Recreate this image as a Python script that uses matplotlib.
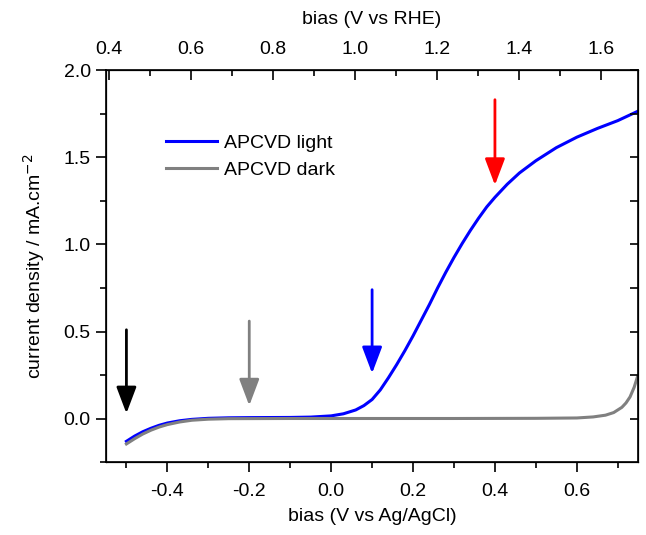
import numpy as np
import matplotlib.pyplot as plt

plt.rcParams['font.family'] = ['Liberation Sans', 'DejaVu Sans']
plt.rcParams['font.size'] = 14

# LSV data (V vs Ag/AgCl, mA/cm2)
v_light = [-0.50, -0.48, -0.46, -0.44, -0.42, -0.40, -0.37, -0.34, -0.30, -0.25,
           -0.20, -0.10, -0.05, 0.00, 0.03, 0.06, 0.08, 0.10, 0.12, 0.14,
           0.16, 0.18, 0.20, 0.22, 0.24, 0.26, 0.28, 0.30, 0.32, 0.34,
           0.36, 0.38, 0.40, 0.43, 0.46, 0.50, 0.55, 0.60, 0.65, 0.70, 0.75]
j_light = [-0.13, -0.10, -0.075, -0.055, -0.038, -0.025, -0.012, -0.004, 0.002, 0.005,
           0.006, 0.007, 0.009, 0.016, 0.028, 0.05, 0.075, 0.11, 0.165, 0.235,
           0.31, 0.39, 0.475, 0.565, 0.655, 0.75, 0.84, 0.925, 1.005, 1.08,
           1.15, 1.215, 1.27, 1.345, 1.41, 1.48, 1.555, 1.615, 1.665, 1.71, 1.765]

v_dark = [-0.50, -0.48, -0.46, -0.44, -0.42, -0.40, -0.37, -0.34, -0.30, -0.25,
          -0.10, 0.10, 0.30, 0.50, 0.60, 0.64, 0.67, 0.69, 0.71, 0.72, 0.73, 0.74, 0.748]
j_dark = [-0.145, -0.115, -0.088, -0.066, -0.048, -0.034, -0.019, -0.009, -0.003, 0.0,
          0.001, 0.001, 0.001, 0.002, 0.004, 0.010, 0.02, 0.035, 0.065, 0.09, 0.125, 0.18, 0.24]

# arrows: x position, tail, tip, colour
arrow_x = [-0.5, -0.2, 0.1, 0.4]
arrow_tail = [0.51, 0.56, 0.74, 1.83]
arrow_tip = [0.03, 0.075, 0.26, 1.34]
arrow_col = ['black', 'gray', 'blue', 'red']

rhe_offset = 0.942  # V vs RHE = V vs Ag/AgCl + offset

fig = plt.figure(figsize=(6.46, 5.35), dpi=100)
ax = fig.add_axes([0.164, 0.136, 0.824, 0.733])

ax.plot(v_light, j_light, color='blue', lw=2.2, label='APCVD light')
ax.plot(v_dark, j_dark, color='gray', lw=2.2, label='APCVD dark')

for x, t0, t1, c in zip(arrow_x, arrow_tail, arrow_tip, arrow_col):
    ax.annotate('', xy=(x, t1), xytext=(x, t0),
                arrowprops=dict(arrowstyle='-|>,head_length=0.9,head_width=0.34',
                                color=c, lw=2.0, mutation_scale=18,
                                shrinkA=0, shrinkB=0))

ax.set_xlim(-0.55, 0.75)
ax.set_ylim(-0.25, 2.0)
ax.set_xticks(np.arange(-0.4, 0.61, 0.2))
ax.set_xticks(np.arange(-0.5, 0.75, 0.1), minor=True)
ax.set_yticks(np.arange(0, 2.01, 0.5))
ax.set_yticks(np.arange(-0.25, 2.01, 0.25), minor=True)
ax.set_xticklabels(['%.1f' % v for v in np.arange(-0.4, 0.61, 0.2)])
ax.set_yticklabels(['%.1f' % v for v in np.arange(0, 2.01, 0.5)])
ax.tick_params(which='major', direction='out', length=7, width=1.2, labelsize=14, pad=8)
ax.tick_params(which='minor', direction='out', length=4, width=1.2)
ax.tick_params(axis='y', pad=4)
ax.set_xlabel('bias (V vs Ag/AgCl)', fontsize=14, labelpad=6)
ax.set_ylabel('current density / mA.cm$^{-2}$', fontsize=14, labelpad=12)
for s in ax.spines.values():
    s.set_linewidth(1.2)

# right side ticks (inward)
axr = ax.twinx()
axr.set_ylim(ax.get_ylim())
axr.set_yticks(np.arange(0, 2.01, 0.25))
axr.tick_params(direction='in', length=6, width=1.2, labelright=False)

# top axis in RHE
axt = ax.twiny()
axt.set_xlim(-0.55 + rhe_offset, 0.75 + rhe_offset)
axt.set_xticks(np.arange(0.4, 1.61, 0.2))
axt.set_xticks(np.arange(0.5, 1.7, 0.1), minor=True)
axt.set_xticklabels(['%.1f' % v for v in np.arange(0.4, 1.61, 0.2)])
axt.tick_params(which='major', direction='in', length=7, width=1.2, labelsize=14, pad=9)
axt.tick_params(which='minor', direction='in', length=4, width=1.2)
axt.set_xlabel('bias (V vs RHE)', fontsize=14, labelpad=12)

ax.legend(loc='upper left', bbox_to_anchor=(0.08, 0.88), frameon=False,
          fontsize=14, handlelength=2.6, handletextpad=0.4, labelspacing=0.45)

fig.savefig('out.png', dpi=100)
